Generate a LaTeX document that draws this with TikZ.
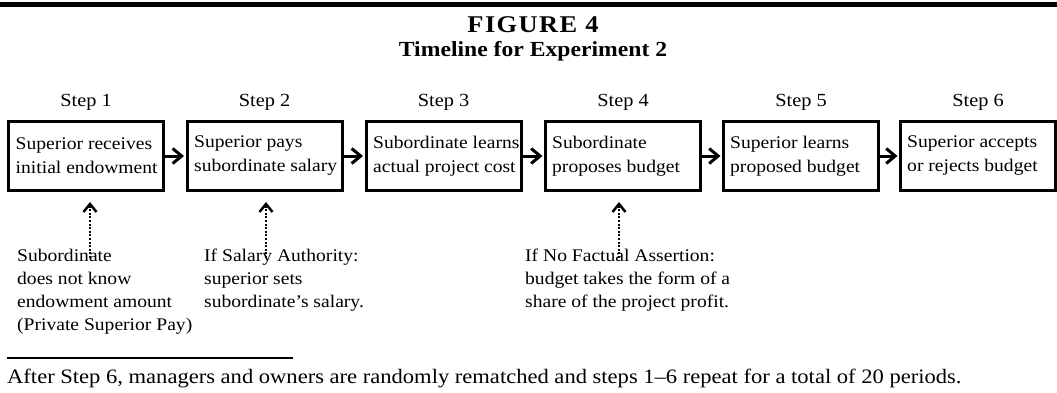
\documentclass[tikz,border=0pt]{standalone}
\usepackage{fontspec}
\setmainfont{Liberation Serif}[FakeStretch=1.1]
\usetikzlibrary{arrows.meta}
\newcommand\bodyfont{\fontsize{17.8}{24}\selectfont}
\newcommand\notefont{\fontsize{17.8}{23}\selectfont}
\begin{document}
\begin{tikzpicture}[x=1pt,y=-1pt,
  stepbox/.style={draw, line width=3pt, minimum width=155pt, minimum height=69pt, inner sep=0pt},
  boxtext/.style={font=\bodyfont, inner sep=0pt, anchor=west, align=left},
  steplbl/.style={font=\fontsize{18.5}{22}\selectfont, inner sep=0pt, anchor=base},
  note/.style={font=\notefont, inner sep=0pt, anchor=north west, align=left},
  flow/.style={line width=3pt, -{Straight Barb[length=9pt,width=15pt,line width=3pt]}, shorten >=1.5pt},
  dotarrow/.style={line width=2.5pt, dash pattern=on 2pt off 1.6pt,
    -{Straight Barb[length=8pt,width=13pt,line width=2.5pt]}},
  rulefig/.style={line width=4.5pt},
]
\useasboundingbox (0,0) rectangle (1057,393);
\draw[rulefig] (0,4.5) -- (1057,4.5);
\node[font=\bfseries\fontsize{24}{28}\selectfont\addfontfeature{LetterSpace=6}, anchor=base, inner sep=0pt] (title) at (533,33) {FIGURE 4};
\node[font=\bfseries\fontsize{21.5}{26}\selectfont, anchor=base, inner sep=0pt] (subtitle) at (533,57) {Timeline for Experiment 2};

\node[stepbox] (b1) at (86,156) {};
\node[stepbox] (b2) at (264.5,156) {};
\node[stepbox] (b3) at (443.5,156) {};
\node[stepbox] (b4) at (623,156) {};
\node[stepbox] (b5) at (801,156) {};
\node[stepbox] (b6) at (978,156) {};

\node[boxtext] (b1t) at ([xshift=8.5pt]b1.west) {Superior receives\\initial endowment};
\node[boxtext] (b2t) at ([xshift=8.5pt]b2.west) {Superior pays\\subordinate salary};
\node[boxtext] (b3t) at ([xshift=8.5pt]b3.west) {Subordinate learns\\actual project cost};
\node[boxtext] (b4t) at ([xshift=8pt]b4.west) {Subordinate\\proposes budget};
\node[boxtext] (b5t) at ([xshift=8pt]b5.west) {Superior learns\\proposed budget};
\node[boxtext] (b6t) at ([xshift=8pt]b6.west) {Superior accepts\\or rejects budget};

\node[steplbl] (s1) at (86,107) {Step 1};
\node[steplbl] (s2) at (264.5,107) {Step 2};
\node[steplbl] (s3) at (443.5,107) {Step 3};
\node[steplbl] (s4) at (623,107) {Step 4};
\node[steplbl] (s5) at (801,107) {Step 5};
\node[steplbl] (s6) at (978,107) {Step 6};

\draw[flow] (b1) -- (b2);
\draw[flow] (b2) -- (b3);
\draw[flow] (b3) -- (b4);
\draw[flow] (b4) -- (b5);
\draw[flow] (b5) -- (b6);

\node[note] (n1) at (17,248.8) {Subordinate\\does not know\\endowment amount\\(Private Superior Pay)};
\node[note] (n2) at (204,248.8) {If Salary Authority:\\superior sets\\subordinate’s salary.};
\node[note] (n3) at (525,248.8) {If No Factual Assertion:\\budget takes the form of a\\share of the project profit.};

\coordinate (t1) at (90,258);
\coordinate (h1) at (90,202);
\coordinate (t2) at (266,258);
\coordinate (h2) at (266,202);
\coordinate (t3) at (619,258);
\coordinate (h3) at (619,202);
\draw[dotarrow] (t1) -- (h1);
\draw[dotarrow] (t2) -- (h2);
\draw[dotarrow] (t3) -- (h3);

\coordinate (r1) at (7,358);
\coordinate (r2) at (293,358);
\draw[line width=2pt] (r1) -- (r2);
\node[font=\fontsize{20.5}{24}\selectfont, inner sep=0pt, anchor=base west] (foot) at (7,383) {After Step 6, managers and owners are randomly rematched and steps 1–6 repeat for a total of 20 periods.};
\end{tikzpicture}
\end{document}
